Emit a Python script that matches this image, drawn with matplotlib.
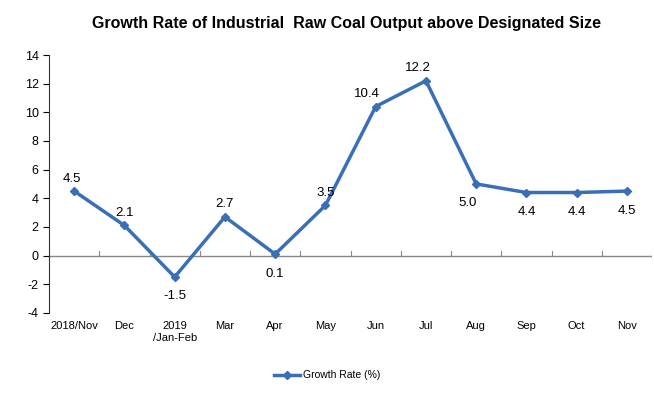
import matplotlib
matplotlib.use('Agg')
import matplotlib.pyplot as plt

plt.rcParams['font.family'] = ['Liberation Sans', 'DejaVu Sans']
plt.rcParams['axes.unicode_minus'] = False

# Data
months = ['2018/Nov', 'Dec', '2019\n/Jan-Feb', 'Mar', 'Apr', 'May', 'Jun', 'Jul',
          'Aug', 'Sep', 'Oct', 'Nov']
growth = [4.5, 2.1, -1.5, 2.7, 0.1, 3.5, 10.4, 12.2, 5.0, 4.4, 4.4, 4.5]
# label offsets (points)
offsets = [(-2, 9), (0, 9), (0, -14), (0, 9), (0, -14), (0, 9), (-6, 9), (-6, 9),
           (-6, -14), (0, -14), (0, -14), (0, -14)]

blue = '#3a6fb8'

fig = plt.figure(figsize=(6.54, 3.93), dpi=100)
ax = fig.add_axes([0.075, 0.204, 0.922, 0.656])

x = list(range(len(months)))
line, = ax.plot(x, growth, color=blue, linewidth=2.5, marker='D', markersize=4.5,
                label='Growth Rate (%)')
for xi, v, (dx, dy) in zip(x, growth, offsets):
    ax.annotate('%.1f' % v, (xi, v), xytext=(dx, dy), textcoords='offset points',
                ha='center', va='center', fontsize=9.5)

ax.set_xlim(-0.5, len(months) - 0.5)
ax.set_ylim(-4, 14)
ax.set_yticks(range(-4, 15, 2))
ax.tick_params(axis='y', labelsize=9, length=4, direction='out')

# category axis crossing at zero, ticks between categories
ax.axhline(0, color='#888888', linewidth=1, zorder=0)
for i in range(len(months) + 1):
    ax.plot([i - 0.5, i - 0.5], [0, 0.3], color='#888888', linewidth=0.8, zorder=0)
ax.set_xticks(x)
ax.set_xticklabels(months, fontsize=8)
ax.tick_params(axis='x', length=0, pad=6)

for s in ['top', 'right', 'bottom']:
    ax.spines[s].set_visible(False)
ax.spines['left'].set_color('#333333')

fig.text(0.53, 0.94, 'Growth Rate of Industrial  Raw Coal Output above Designated Size',
         ha='center', va='center', fontsize=11.5, fontweight='bold')
fig.legend(handles=[line], loc='center', bbox_to_anchor=(0.5, 0.045), frameon=False,
           fontsize=7.5, handlelength=2.5, handletextpad=0.3)

plt.savefig('out.png', dpi=100)
